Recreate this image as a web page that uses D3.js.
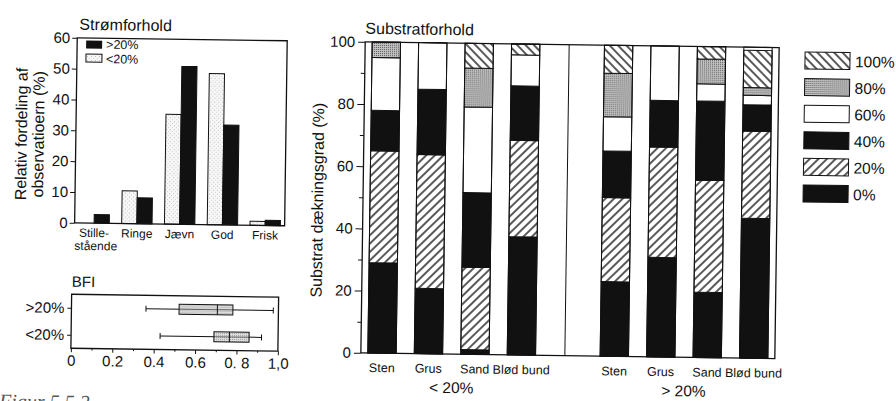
<!DOCTYPE html>
<html>
<head>
<meta charset="utf-8">
<script src="https://cdn.jsdelivr.net/npm/d3@7"></script>
<style>
  body { margin: 0; background: #fff; }
  text { font-family: "Liberation Sans", Arial, sans-serif; fill: #111; }
  .axis path, .axis line { stroke: #111; }
</style>
</head>
<body>
<script>
// --- Strømforhold (left top) ---
var flowCats = ["Stillestående", "Ringe", "Jævn", "God", "Frisk"];
var flowLabels = [["Stille-", "stående"], ["Ringe"], ["Jævn"], ["God"], ["Frisk"]];
var flowLow = [0, 10.6, 35.6, 49, 1.3];      // <20%
var flowHigh = [2.8, 8.4, 51.2, 32.4, 1.7];  // >20%
var flowTicks = [0, 10, 20, 30, 40, 50, 60];

// --- BFI boxplot (left bottom) ---
var bfiGroups = [">20%", "<20%"];
var bfiMin = [0.36, 0.43];
var bfiQ1 = [0.52, 0.69];
var bfiMed = [0.705, 0.765];
var bfiQ3 = [0.78, 0.86];
var bfiMax = [0.975, 0.92];
var bfiTicks = [0, 0.2, 0.4, 0.6, 0.8, 1.0];
var bfiTickLabels = ["0", "0.2", "0.4", "0.6", "0. 8", "1,0"];

// --- Substratforhold (right) ---
var subCats = ["Sten", "Grus", "Sand", "Blød bund"];
var subGroups = ["< 20%", "> 20%"];
var coverLevels = ["0%", "20%", "40%", "60%", "80%", "100%"];
var cover0 = [29, 21, 1.5, 38, 24, 32, 21, 45];
var cover20 = [36, 43, 26.5, 31, 27, 35.5, 36, 28];
var cover40 = [13, 21, 24, 17.5, 15, 15, 25.5, 8.5];
var cover60 = [17, 15, 27.5, 10, 11, 17.5, 5.5, 3];
var cover80 = [5, 0, 12.5, 0, 14, 0, 8, 2.5];
var cover100 = [0, 0, 8, 3.5, 9, 0, 4, 12];
var subTicks = [0, 20, 40, 60, 80, 100];

var svg = d3.select("body").append("svg")
    .attr("width", 896)
    .attr("height", 401);

var defs = svg.append("defs");

function hatch(id, angle) {
    var p = defs.append("pattern")
        .attr("id", id)
        .attr("patternUnits", "userSpaceOnUse")
        .attr("width", 6).attr("height", 6)
        .attr("patternTransform", "rotate(" + angle + ")");
    p.append("rect").attr("width", 6).attr("height", 6).attr("fill", "#fff");
    p.append("line").attr("x1", 3).attr("x2", 3).attr("y1", 0).attr("y2", 6)
        .attr("stroke", "#000").attr("stroke-width", 1.3);
}
hatch("hatchUp", 45);     // "/"
hatch("hatchDown", -45);  // "\"

var sd = defs.append("pattern").attr("id", "stipDark")
    .attr("patternUnits", "userSpaceOnUse").attr("width", 2).attr("height", 2);
sd.append("rect").attr("width", 2).attr("height", 2).attr("fill", "#c4c4c4");
sd.append("rect").attr("width", 1).attr("height", 1).attr("fill", "#555");

var sl = defs.append("pattern").attr("id", "stipLight")
    .attr("patternUnits", "userSpaceOnUse").attr("width", 4).attr("height", 4);
sl.append("rect").attr("width", 4).attr("height", 4).attr("fill", "#f7f7f7");
sl.append("rect").attr("x", 1).attr("y", 1).attr("width", 1).attr("height", 1).attr("fill", "#bbb");
sl.append("rect").attr("x", 3).attr("y", 3).attr("width", 1).attr("height", 1).attr("fill", "#ccc");

// scanned page is slightly tilted
var page = svg.append("g").attr("transform", "rotate(0.8,448,200)");

function frame(g, x0, x1, y0, y1) {
    g.append("rect")
        .attr("x", x0).attr("y", y0)
        .attr("width", x1 - x0).attr("height", y1 - y0)
        .attr("fill", "none").attr("stroke", "#111").attr("stroke-width", 1.3);
}

/* ================= Strømforhold ================= */
var fx = d3.scaleBand().domain(flowCats).range([75, 285]).paddingInner(0.29).paddingOuter(0.1);
var fsub = d3.scaleBand().domain(["<20%", ">20%"]).range([0, fx.bandwidth()]);
var fy = d3.scaleLinear().domain([0, 60]).range([228, 43]);

var flow = page.append("g");
flow.append("text").attr("x", 77).attr("y", 35).style("font-size", "16px").text("Strømforhold");

flow.append("g").attr("class", "axis")
    .attr("transform", "translate(75,0)")
    .call(d3.axisLeft(fy).tickValues(flowTicks).tickSize(5).tickPadding(2))
    .call(function (g) { g.select(".domain").remove(); })
    .selectAll("text").style("font-size", "15px").style("font-family", "Liberation Sans, Arial, sans-serif");

flowCats.forEach(function (c, i) {
    if (flowLow[i] > 0) {
        flow.append("rect")
            .attr("x", fx(c) + fsub("<20%")).attr("y", fy(flowLow[i]))
            .attr("width", fsub.bandwidth()).attr("height", fy(0) - fy(flowLow[i]))
            .attr("fill", "url(#stipLight)").attr("stroke", "#111").attr("stroke-width", 1);
    }
    flow.append("rect")
        .attr("x", fx(c) + fsub(">20%")).attr("y", fy(flowHigh[i]))
        .attr("width", fsub.bandwidth()).attr("height", fy(0) - fy(flowHigh[i]))
        .attr("fill", "#111").attr("stroke", "#111").attr("stroke-width", 1);
    flowLabels[i].forEach(function (s, j) {
        flow.append("text")
            .attr("x", fx(c) + fx.bandwidth() / 2 + (j === 1 ? 2 : 0))
            .attr("y", 242 + j * 13)
            .attr("text-anchor", "middle")
            .style("font-size", "12px").text(s);
    });
});
frame(flow, 75, 285, fy(60), fy(0));

// legend
flow.append("rect").attr("x", 84).attr("y", 45.5).attr("width", 16).attr("height", 8).attr("fill", "#111");
flow.append("rect").attr("x", 84).attr("y", 59).attr("width", 16).attr("height", 8)
    .attr("fill", "url(#stipLight)").attr("stroke", "#111").attr("stroke-width", 1);
flow.append("text").attr("x", 104).attr("y", 53.5).style("font-size", "12.5px").text(">20%");
flow.append("text").attr("x", 104).attr("y", 68).style("font-size", "12.5px").text("<20%");

flow.append("text")
    .attr("transform", "translate(26,140) rotate(-90)")
    .attr("text-anchor", "middle").style("font-size", "16px")
    .text("Relativ fordeling af");
flow.append("text")
    .attr("transform", "translate(43,140) rotate(-90)")
    .attr("text-anchor", "middle").style("font-size", "16px")
    .text("observatioern (%)");

/* ================= BFI ================= */
var bx = d3.scaleLinear().domain([0, 1]).range([73, 280]);
var by = d3.scalePoint().domain(bfiGroups).range([299.5, 353.5]).padding(0.5);

var bfi = page.append("g");
bfi.append("text").attr("x", 73).attr("y", 292).style("font-size", "15px").text("BFI");

bfi.append("g").attr("class", "axis")
    .attr("transform", "translate(0,353.5)")
    .call(d3.axisBottom(bx).tickValues(bfiTicks).tickSize(4).tickPadding(3)
        .tickFormat(function (d, i) { return bfiTickLabels[i]; }))
    .call(function (g) { g.select(".domain").remove(); })
    .selectAll("text").style("font-size", "15px").style("font-family", "Liberation Sans, Arial, sans-serif");
bfi.append("g").attr("class", "axis")
    .attr("transform", "translate(0,353.5)")
    .call(d3.axisBottom(bx).tickValues([0.1, 0.3, 0.5, 0.7, 0.9]).tickSize(2).tickFormat(""))
    .call(function (g) { g.select(".domain").remove(); });
bfi.append("g").attr("class", "axis")
    .attr("transform", "translate(73,0)")
    .call(d3.axisLeft(by).tickSize(4).tickPadding(3))
    .call(function (g) { g.select(".domain").remove(); })
    .selectAll("text").style("font-size", "15px").style("font-family", "Liberation Sans, Arial, sans-serif");

bfiGroups.forEach(function (gname, i) {
    var cy = by(gname);
    bfi.append("line").attr("x1", bx(bfiMin[i])).attr("x2", bx(bfiMax[i]))
        .attr("y1", cy).attr("y2", cy).attr("stroke", "#111").attr("stroke-width", 1);
    [bfiMin[i], bfiMax[i]].forEach(function (v) {
        bfi.append("line").attr("x1", bx(v)).attr("x2", bx(v))
            .attr("y1", cy - 3).attr("y2", cy + 3).attr("stroke", "#111").attr("stroke-width", 1);
    });
    bfi.append("rect").attr("x", bx(bfiQ1[i])).attr("y", cy - 5)
        .attr("width", bx(bfiQ3[i]) - bx(bfiQ1[i])).attr("height", 10)
        .attr("fill", "url(#stipDark)").attr("fill-opacity", 0.55)
        .attr("stroke", "#111").attr("stroke-width", 1);
    bfi.append("line").attr("x1", bx(bfiMed[i])).attr("x2", bx(bfiMed[i]))
        .attr("y1", cy - 5).attr("y2", cy + 5).attr("stroke", "#111").attr("stroke-width", 1);
});
frame(bfi, 73, 280, 299.5, 353.5);

/* ================= Substratforhold ================= */
var slots = [];
subGroups.forEach(function (g, gi) {
    subCats.forEach(function (c) { slots.push(g + "|" + c); });
    if (gi === 0) slots.push("gap");
});
var rows = [];
var barSlots = slots.filter(function (s) { return s !== "gap"; });
barSlots.forEach(function (s, i) {
    rows.push({ slot: s, "0%": cover0[i], "20%": cover20[i], "40%": cover40[i],
        "60%": cover60[i], "80%": cover80[i], "100%": cover100[i] });
});
var fills = { "0%": "#111", "20%": "url(#hatchUp)", "40%": "#111", "60%": "#fff",
    "80%": "url(#stipDark)", "100%": "url(#hatchDown)" };

var sx = d3.scaleBand().domain(slots).range([363, 777]).paddingInner(0.39).paddingOuter(0.15);
var sy = d3.scaleLinear().domain([0, 100]).range([354, 43]);
var stack = d3.stack().keys(coverLevels)(rows);

var sub = page.append("g");
sub.append("text").attr("x", 363).attr("y", 35).style("font-size", "16px").text("Substratforhold");

sub.append("g").attr("class", "axis")
    .attr("transform", "translate(363,0)")
    .call(d3.axisLeft(sy).tickValues(subTicks).tickSize(7).tickPadding(3))
    .call(function (g) { g.select(".domain").remove(); })
    .selectAll("text").style("font-size", "15px").style("font-family", "Liberation Sans, Arial, sans-serif");
sub.append("g").attr("class", "axis")
    .attr("transform", "translate(363,0)")
    .call(d3.axisLeft(sy).tickValues([10, 30, 50, 70, 90]).tickSize(4).tickFormat(""))
    .call(function (g) { g.select(".domain").remove(); });

stack.forEach(function (layer) {
    sub.selectAll(null).data(layer).enter().append("rect")
        .attr("x", function (d) { return sx(d.data.slot); })
        .attr("y", function (d) { return sy(d[1]); })
        .attr("width", sx.bandwidth())
        .attr("height", function (d) { return sy(d[0]) - sy(d[1]); })
        .attr("fill", fills[layer.key])
        .attr("stroke", "#111").attr("stroke-width", 1);
});
// bar outlines over full 0-100
sub.selectAll(null).data(rows).enter().append("rect")
    .attr("x", function (d) { return sx(d.slot); })
    .attr("y", sy(100))
    .attr("width", sx.bandwidth())
    .attr("height", sy(0) - sy(100))
    .attr("fill", "none").attr("stroke", "#111").attr("stroke-width", 1);

// category labels
rows.forEach(function (d) {
    sub.append("text")
        .attr("x", sx(d.slot) + sx.bandwidth() / 2)
        .attr("y", 373)
        .attr("text-anchor", "middle")
        .style("font-size", "12.5px")
        .text(d.slot.split("|")[1]);
});
subGroups.forEach(function (g) {
    var a = sx(g + "|" + subCats[0]), b = sx(g + "|" + subCats[subCats.length - 1]) + sx.bandwidth();
    sub.append("text")
        .attr("x", (a + b) / 2).attr("y", 393)
        .attr("text-anchor", "middle").style("font-size", "15.5px").text(g);
});

// divider between groups
var gx = sx("gap") + sx.bandwidth() / 2 - 3;
sub.append("line").attr("x1", gx).attr("x2", gx).attr("y1", sy(100)).attr("y2", sy(0))
    .attr("stroke", "#111").attr("stroke-width", 1);
frame(sub, 363, 777, sy(100), sy(0));

sub.append("text")
    .attr("transform", "translate(323,202) rotate(-90)")
    .attr("text-anchor", "middle").style("font-size", "16px")
    .text("Substrat dækningsgrad (%)");

// legend (top level first)
coverLevels.slice().reverse().forEach(function (k, i) {
    var y0 = 47 + i * 26.6;
    sub.append("rect").attr("x", 803).attr("y", y0).attr("width", 45).attr("height", 17)
        .attr("fill", fills[k]).attr("stroke", "#111").attr("stroke-width", 1);
    sub.append("text").attr("x", 853).attr("y", y0 + 14.5).style("font-size", "15.5px").text(k);
});

// caption, cut off at the bottom of the scan
page.append("text").attr("x", 2).attr("y", 414)
    .style("font-family", "Liberation Serif, serif").style("font-style", "italic")
    .style("font-size", "20px").style("fill", "#555").text("Figur 5.5.2");
</script>
</body>
</html>
